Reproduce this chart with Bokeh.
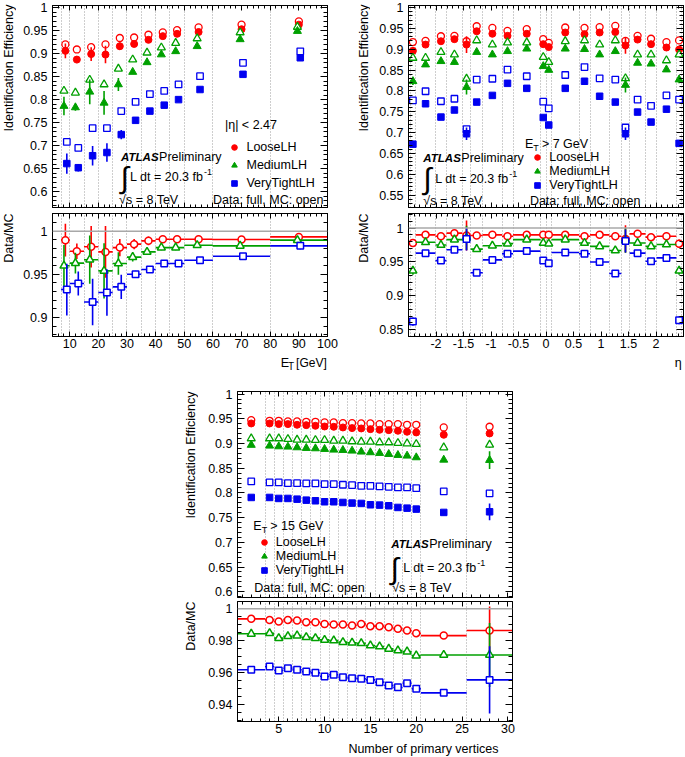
import numpy as np
from bokeh.plotting import figure
from bokeh.models import (Range1d, FixedTicker, LinearAxis, Label, Legend, LegendItem,
                          Span, ColumnDataSource, PrintfTickFormatter, Spacer, Grid)
from bokeh.layouts import column, row
from bokeh.embed import file_html
from bokeh.resources import INLINE

# ------------------------------------------------------------------ data
# --- efficiency vs E_T (|eta| < 2.47)
et_edges = [7, 10, 15, 20, 25, 30, 35, 40, 45, 50, 60, 80, 100]
loose_eff_et = [0.906, 0.887, 0.899, 0.898, 0.916, 0.921, 0.930, 0.938, 0.943, 0.947, 0.953, 0.963]
loose_eff_et_err = [0.016, 0.006, 0.015, 0.019, 0.008, 0.005, 0.004, 0.003, 0.003, 0.003, 0.002, 0.002]
loose_mc_et = [0.920, 0.909, 0.914, 0.920, 0.934, 0.935, 0.941, 0.946, 0.951, 0.957, 0.963, 0.970]
medium_eff_et = [0.786, 0.783, 0.817, 0.793, 0.833, 0.860, 0.881, 0.898, 0.905, 0.916, 0.931, 0.949]
medium_eff_et_err = [0.020, 0.007, 0.027, 0.026, 0.014, 0.004, 0.003, 0.003, 0.003, 0.003, 0.002, 0.002]
medium_mc_et = [0.819, 0.815, 0.843, 0.833, 0.867, 0.887, 0.902, 0.913, 0.923, 0.933, 0.946, 0.958]
vtight_eff_et = [0.661, 0.652, 0.678, 0.685, 0.724, 0.755, 0.775, 0.788, 0.800, 0.822, 0.855, 0.891]
vtight_eff_et_err = [0.022, 0.008, 0.021, 0.020, 0.010, 0.004, 0.003, 0.003, 0.003, 0.003, 0.003, 0.003]
vtight_mc_et = [0.708, 0.695, 0.738, 0.738, 0.775, 0.795, 0.812, 0.819, 0.833, 0.851, 0.880, 0.905]

loose_ratio_et = [0.9896, 0.9768, 0.9819, 0.9760, 0.9810, 0.9850, 0.9888, 0.9907, 0.9907, 0.9907, 0.9903, 0.9934]
loose_ratio_et_err = [0.019, 0.009, 0.024, 0.030, 0.010, 0.006, 0.005, 0.004, 0.004, 0.003, 0.003, 0.003]
medium_ratio_et = [0.9600, 0.9630, 0.9670, 0.9540, 0.9625, 0.9700, 0.9760, 0.9810, 0.9810, 0.9838, 0.9830, 0.9896]
medium_ratio_et_err = [0.024, 0.012, 0.028, 0.032, 0.013, 0.005, 0.003, 0.003, 0.003, 0.003, 0.002, 0.003]
vtight_ratio_et = [0.9324, 0.9394, 0.9180, 0.9290, 0.9355, 0.9502, 0.9556, 0.9625, 0.9625, 0.9664, 0.9710, 0.9830]
vtight_ratio_et_err = [0.030, 0.014, 0.027, 0.027, 0.014, 0.004, 0.003, 0.003, 0.003, 0.003, 0.003, 0.004]

# --- efficiency vs eta (E_T > 7 GeV)
eta_edges = [-2.47, -2.37, -2.01, -1.81, -1.52, -1.37, -1.15, -0.8, -0.6, -0.1, 0.0,
             0.1, 0.6, 0.8, 1.15, 1.37, 1.52, 1.81, 2.01, 2.37, 2.47]
loose_eff_eta = [0.896, 0.911, 0.919, 0.924, 0.911, 0.943, 0.937, 0.932, 0.937, 0.912,
                 0.905, 0.940, 0.936, 0.940, 0.941, 0.909, 0.923, 0.912, 0.904, 0.899]
loose_eff_eta_err = [0.009, 0.004, 0.004, 0.004, 0.020, 0.004, 0.003, 0.003, 0.003, 0.004,
                     0.004, 0.003, 0.003, 0.003, 0.004, 0.020, 0.004, 0.004, 0.004, 0.009]
loose_mc_eta = [0.917, 0.920, 0.931, 0.932, 0.919, 0.955, 0.951, 0.944, 0.948, 0.924,
                0.915, 0.952, 0.951, 0.953, 0.956, 0.920, 0.932, 0.925, 0.917, 0.921]
medium_eff_eta = [0.823, 0.863, 0.871, 0.869, 0.809, 0.893, 0.887, 0.895, 0.901, 0.859,
                  0.850, 0.901, 0.900, 0.887, 0.895, 0.814, 0.867, 0.865, 0.851, 0.827]
medium_eff_eta_err = [0.009, 0.004, 0.004, 0.006, 0.018, 0.003, 0.003, 0.003, 0.003, 0.004,
                      0.004, 0.003, 0.003, 0.003, 0.003, 0.018, 0.004, 0.004, 0.004, 0.009]
medium_mc_eta = [0.879, 0.879, 0.893, 0.887, 0.829, 0.921, 0.911, 0.916, 0.916, 0.881,
                 0.869, 0.919, 0.921, 0.911, 0.921, 0.830, 0.887, 0.887, 0.873, 0.887]
vtight_eff_eta = [0.672, 0.769, 0.737, 0.754, 0.697, 0.773, 0.789, 0.818, 0.806, 0.736,
                  0.718, 0.806, 0.823, 0.787, 0.773, 0.697, 0.749, 0.725, 0.756, 0.674]
vtight_eff_eta_err = [0.008, 0.004, 0.004, 0.005, 0.015, 0.003, 0.003, 0.003, 0.003, 0.004,
                      0.004, 0.003, 0.003, 0.003, 0.003, 0.015, 0.004, 0.004, 0.004, 0.008]
vtight_mc_eta = [0.777, 0.799, 0.775, 0.781, 0.708, 0.827, 0.829, 0.851, 0.835, 0.774,
                 0.758, 0.838, 0.857, 0.830, 0.827, 0.712, 0.779, 0.764, 0.789, 0.779]

loose_ratio_eta = [0.978, 0.990, 0.988, 0.9925, 0.989, 0.989, 0.990, 0.988, 0.990, 0.990,
                   0.990, 0.990, 0.988, 0.990, 0.988, 0.984, 0.9915, 0.9866, 0.988, 0.977]
loose_ratio_eta_err = [0.006, 0.003, 0.003, 0.003, 0.022, 0.003, 0.003, 0.003, 0.003, 0.003,
                       0.003, 0.003, 0.003, 0.003, 0.003, 0.020, 0.003, 0.003, 0.003, 0.006]
medium_ratio_eta = [0.937, 0.979, 0.975, 0.983, 0.9856, 0.969, 0.974, 0.977, 0.983, 0.978,
                    0.977, 0.983, 0.978, 0.973, 0.967, 0.9816, 0.978, 0.973, 0.9757, 0.937]
medium_ratio_eta_err = [0.006, 0.003, 0.003, 0.003, 0.018, 0.003, 0.003, 0.003, 0.003, 0.003,
                        0.003, 0.003, 0.003, 0.003, 0.003, 0.018, 0.003, 0.003, 0.003, 0.006]
vtight_ratio_eta = [0.862, 0.963, 0.952, 0.968, 0.984, 0.934, 0.953, 0.962, 0.966, 0.952,
                    0.948, 0.964, 0.962, 0.950, 0.933, 0.981, 0.963, 0.951, 0.956, 0.864]
vtight_ratio_eta_err = [0.006, 0.004, 0.004, 0.004, 0.017, 0.003, 0.003, 0.003, 0.003, 0.003,
                        0.003, 0.003, 0.003, 0.003, 0.003, 0.017, 0.004, 0.004, 0.004, 0.006]

# --- efficiency vs number of primary vertices (E_T > 15 GeV)
nvtx_edges = [0.5, 3.5, 4.5, 5.5, 6.5, 7.5, 8.5, 9.5, 10.5, 11.5, 12.5, 13.5, 14.5,
              15.5, 16.5, 17.5, 18.5, 19.5, 20.5, 25.5, 30.5]
loose_eff_nv = [0.9406, 0.9406, 0.9393, 0.9393, 0.9379, 0.9372, 0.9359, 0.9345, 0.9339, 0.9325,
                0.9312, 0.9305, 0.9291, 0.9278, 0.9271, 0.9258, 0.9238, 0.9224, 0.9177, 0.9204]
loose_eff_nv_err = [0.001] * 18 + [0.002, 0.006]
loose_mc_nv = [0.9474, 0.9460, 0.9460, 0.9447, 0.9447, 0.9440, 0.9440, 0.9426, 0.9426, 0.9413,
               0.9413, 0.9406, 0.9406, 0.9393, 0.9393, 0.9393, 0.9379, 0.9379, 0.9325, 0.9339]
loose_mc_nv_err = [0.0] * 19 + [0.004]
medium_eff_nv = [0.8970, 0.8954, 0.8940, 0.8934, 0.8920, 0.8907, 0.8900, 0.8887, 0.8873, 0.8866,
                 0.8853, 0.8833, 0.8820, 0.8806, 0.8785, 0.8765, 0.8752, 0.8718, 0.8670, 0.8664]
medium_eff_nv_err = [0.001] * 18 + [0.002, 0.018]
medium_mc_nv = [0.9103, 0.9103, 0.9103, 0.9089, 0.9076, 0.9076, 0.9069, 0.9069, 0.9055, 0.9055,
                0.9042, 0.9035, 0.9035, 0.9022, 0.9022, 0.9008, 0.9001, 0.8988, 0.8920, 0.8974]
medium_mc_nv_err = [0.0] * 19 + [0.006]
vtight_eff_nv = [0.7908, 0.7908, 0.7888, 0.7888, 0.7874, 0.7854, 0.7841, 0.7821, 0.7821, 0.7807,
                 0.7794, 0.7787, 0.7760, 0.7753, 0.7740, 0.7706, 0.7692, 0.7672, 0.7605, 0.7618]
vtight_eff_nv_err = [0.001] * 18 + [0.002, 0.017]
vtight_mc_nv = [0.8232, 0.8212, 0.8212, 0.8198, 0.8198, 0.8192, 0.8192, 0.8178, 0.8178, 0.8165,
                0.8158, 0.8144, 0.8144, 0.8131, 0.8124, 0.8111, 0.8111, 0.8097, 0.8030, 0.7989]
vtight_mc_nv_err = [0.0] * 19 + [0.007]

loose_ratio_nv = [0.99375, 0.9931, 0.9921, 0.9931, 0.9927, 0.9917, 0.9917, 0.9906, 0.9902, 0.9902,
                  0.9896, 0.9906, 0.9892, 0.9892, 0.9885, 0.9875, 0.9865, 0.9848, 0.9833, 0.9865]
loose_ratio_nv_err = [0.0008] * 18 + [0.0010, 0.0150]
medium_ratio_nv = [0.9844, 0.9848, 0.9817, 0.9829, 0.9833, 0.9823, 0.9817, 0.9806, 0.9802, 0.9792,
                   0.9788, 0.9785, 0.9771, 0.9765, 0.9750, 0.9740, 0.9733, 0.9708, 0.9712, 0.9712]
medium_ratio_nv_err = [0.0015] * 18 + [0.0012, 0.0200]
vtight_ratio_nv = [0.9619, 0.9640, 0.9615, 0.9629, 0.9619, 0.9608, 0.9600, 0.9577, 0.9588, 0.9573,
                   0.9567, 0.9563, 0.9556, 0.9542, 0.9521, 0.9510, 0.9535, 0.9500, 0.9475, 0.9556]
vtight_ratio_nv_err = [0.0018] * 18 + [0.0018, 0.0210]

menu_names = ["LooseLH", "MediumLH", "VeryTightLH"]

# ------------------------------------------------------------------ style
FONT = "Liberation Sans"
FS = "12.5px"
RED, GREEN, BLUE = "#ff0000", "#00a000", "#0000f0"
COLORS = [RED, GREEN, BLUE]
MARKERS = ["circle", "triangle", "square"]
MSIZE = {"circle": 7, "triangle": 8, "square": 6.5}


def centers(edges):
    return [(a + b) / 2.0 for a, b in zip(edges[:-1], edges[1:])]


def style_axis(ax, ticklen, labels, standoff=4):
    ax.axis_line_color = "black"
    ax.axis_line_width = 1
    ax.major_tick_in = int(ticklen[0])
    ax.major_tick_out = 0
    ax.minor_tick_in = int(ticklen[1])
    ax.minor_tick_out = 0
    ax.major_tick_line_color = "black"
    ax.minor_tick_line_color = "black"
    if labels:
        ax.formatter = PrintfTickFormatter(format="%g")
        ax.major_label_text_font = FONT
        ax.major_label_text_font_size = FS
        ax.major_label_text_color = "black"
        ax.major_label_standoff = standoff
    else:
        ax.major_label_text_font_size = "1px"
        ax.major_label_text_color = None
        ax.major_label_standoff = 0


def make_fig(W, H, xr, yr, mb, xt, xm, yt, ym, grid_edges, xlabels):
    l, r, t, b = mb
    p = figure(width=W, height=H, x_range=Range1d(*xr), y_range=Range1d(*yr),
               x_axis_type=None, y_axis_type=None, output_backend="svg", title=None,
               toolbar_location=None, min_border_left=l, min_border_right=r,
               min_border_top=t, min_border_bottom=b)
    p.outline_line_color = "black"
    p.outline_line_width = 1
    p.background_fill_color = "white"
    p.border_fill_color = "white"
    p.add_layout(Grid(dimension=0, ticker=FixedTicker(ticks=list(grid_edges)),
                      grid_line_color="#9c9c9c", grid_line_dash="1 2", grid_line_width=1))
    for side in ("below", "above"):
        ax = LinearAxis(ticker=FixedTicker(ticks=xt, minor_ticks=xm))
        style_axis(ax, (5, 3), labels=(side == "below" and xlabels), standoff=2)
        p.add_layout(ax, side)
    for side in ("left", "right"):
        ax = LinearAxis(ticker=FixedTicker(ticks=yt, minor_ticks=ym))
        style_axis(ax, (7, 4), labels=(side == "left"), standoff=5)
        p.add_layout(ax, side)
    geom = (xr, yr, W - l - r, H - t - b)
    return p, geom


def blank(W, H):
    p = figure(width=W, height=H, x_range=Range1d(0, W), y_range=Range1d(0, H),
               x_axis_type=None, y_axis_type=None, output_backend="svg", title=None,
               toolbar_location=None, min_border=0, min_border_left=0, min_border_right=0,
               min_border_top=0, min_border_bottom=0)
    p.outline_line_color = None
    p.background_fill_color = "white"
    p.border_fill_color = "white"
    return p


def txt(p, x, y, s, size=FS, style="normal", align="left", baseline="middle",
        xo=0, yo=0, angle=0.0, font=FONT):
    p.add_layout(Label(x=x, y=y, text=s, text_font=font, text_font_size=size,
                       text_font_style=style, text_align=align, text_baseline=baseline,
                       x_offset=xo, y_offset=yo, angle=angle, text_color="black"))


def upper_series(p, x, eff, eff_err, mc, mc_err, color, marker, dx=0.0):
    xs = [v + dx for v in x]
    sd = ColumnDataSource(dict(x=xs, y=eff, lo=[a - e for a, e in zip(eff, eff_err)],
                               hi=[a + e for a, e in zip(eff, eff_err)]))
    sm = ColumnDataSource(dict(x=xs, y=mc, lo=[a - e for a, e in zip(mc, mc_err)],
                               hi=[a + e for a, e in zip(mc, mc_err)]))
    p.segment(x0="x", x1="x", y0="lo", y1="hi", source=sm, line_color=color, line_width=1.5)
    p.scatter("x", "y", source=sm, marker=marker, size=MSIZE[marker], fill_color="white",
              line_color=color, line_width=1.3)
    p.segment(x0="x", x1="x", y0="lo", y1="hi", source=sd, line_color=color, line_width=1.6)
    r = p.scatter("x", "y", source=sd, marker=marker, size=MSIZE[marker], fill_color=color,
                  line_color=color, line_width=1)
    return r


def ratio_series(p, edges, vals, errs, color, marker, dx=0.0):
    c = centers(edges)
    xs = [v + dx for v in c]
    src = ColumnDataSource(dict(x=xs, lo_x=edges[:-1], hi_x=edges[1:], y=vals,
                                lo=[a - e for a, e in zip(vals, errs)],
                                hi=[a + e for a, e in zip(vals, errs)]))
    p.segment(x0="lo_x", x1="hi_x", y0="y", y1="y", source=src, line_color=color, line_width=1.6)
    p.segment(x0="x", x1="x", y0="lo", y1="hi", source=src, line_color=color, line_width=1.6)
    p.scatter("x", "y", source=src, marker=marker, size=MSIZE[marker], fill_color="white",
              line_color=color, line_width=1.5)


def add_legend(p, geom, renderers, x, y, item_h):
    (x0, x1), (y0, y1), fw, fh = geom
    gw = 14
    px = (x - x0) / (x1 - x0) * fw - gw / 2.0
    py = (y - y0) / (y1 - y0) * fh - item_h / 2.0
    items = [LegendItem(label=n, renderers=[r]) for n, r in zip(menu_names, renderers)]
    leg = Legend(items=items, location=(px, py), background_fill_alpha=0, border_line_alpha=0,
                 padding=0, margin=0, spacing=0, glyph_width=gw, glyph_height=int(item_h),
                 label_height=int(item_h), label_standoff=5, label_text_font=FONT,
                 label_text_font_size=FS, label_text_color="black")
    p.add_layout(leg)


def atlas_block(p, xa, ya, xi, yi, xl, yl, xs, ys):
    txt(p, xa, ya, "ATLAS", size="11.5px", style="bold italic")
    txt(p, xa, ya, "Preliminary", xo=38)
    txt(p, xi, yi, "\u222b", size="30px", align="center")
    txt(p, xl, yl, "L dt = 20.3 fb")
    txt(p, xl, yl, "-1", size="9px", xo=74, yo=5)
    txt(p, xs, ys, "\u221as = 8 TeV")


def et_header(p, x, y, rest):
    txt(p, x, y, "E")
    txt(p, x, y, "T", size="9px", xo=8.4, yo=-4)
    txt(p, x, y, rest, xo=17)


def ratio_line(p):
    p.add_layout(Span(location=1.0, dimension="width", line_color="#a8a8a8", line_width=1.5))


def r2(a):
    return [round(float(v), 4) for v in a]

# ------------------------------------------------------------------ panel 1: E_T
et_c = centers(et_edges)
et_xt = list(range(10, 101, 10))
et_xm = list(range(4, 101, 2))
tl_up, g_tlu = make_fig(324, 210, (4, 100), (0.5655, 1.0046), (36, 13, 5, 3),
                        et_xt, et_xm, r2(np.arange(0.6, 1.001, 0.05)), r2(np.arange(0.57, 1.001, 0.01)),
                        et_edges, False)
et_sets = [(loose_eff_et, loose_eff_et_err, loose_mc_et),
           (medium_eff_et, medium_eff_et_err, medium_mc_et),
           (vtight_eff_et, vtight_eff_et_err, vtight_mc_et)]
et_dx = [0.0, -0.5, 0.5]
rs = []
for (e, ee, m), col, mk, dx in zip(et_sets, COLORS, MARKERS, et_dx):
    rs.append(upper_series(tl_up, et_c, e, ee, m, [0.0] * len(m), col, mk, dx))
add_legend(tl_up, g_tlu, rs, 67.7, 0.6187, 18)
txt(tl_up, 64.2, 0.744, "|\u03b7| < 2.47")
atlas_block(tl_up, 27.95, 0.6746, 29.17, 0.630, 31.09, 0.631, 27.25, 0.581)
txt(tl_up, 60.02, 0.581, "Data: full, MC: open")

tl_ra, g_tlr = make_fig(324, 144, (4, 100), (0.878, 1.0205), (36, 13, 3, 18),
                        et_xt, et_xm, [0.9, 0.95, 1.0], r2(np.arange(0.88, 1.021, 0.01)),
                        et_edges, True)
ratio_line(tl_ra)
for v, e, col, mk, dx in zip([loose_ratio_et, medium_ratio_et, vtight_ratio_et],
                             [loose_ratio_et_err, medium_ratio_et_err, vtight_ratio_et_err],
                             COLORS, MARKERS, et_dx):
    ratio_series(tl_ra, et_edges, v, e, col, mk, dx)

tl_y = blank(16, 371)
txt(tl_y, 8, 371 - 4, "Identification Efficiency", align="right", angle=np.pi / 2)
txt(tl_y, 8, 371 - 213, "Data/MC", align="right", angle=np.pi / 2)
tl_x = blank(324, 17)
txt(tl_x, 269, 9, "E")
txt(tl_x, 277.5, 5, "T", size="10px")
txt(tl_x, 287, 9, "[GeV]", size="12px")

# ------------------------------------------------------------------ panel 2: eta
eta_c = centers(eta_edges)
eta_xt = [-2, -1.5, -1, -0.5, 0, 0.5, 1, 1.5, 2]
eta_xm = r2(np.arange(-2.5, 2.501, 0.1))
tr_up, g_tru = make_fig(315, 210, (-2.5, 2.5), (0.520, 1.0048), (38, 2, 5, 3),
                        eta_xt, eta_xm, r2(np.arange(0.55, 1.001, 0.05)), r2(np.arange(0.53, 1.001, 0.01)),
                        eta_edges, False)
eta_sets = [(loose_eff_eta, loose_eff_eta_err, loose_mc_eta),
            (medium_eff_eta, medium_eff_eta_err, medium_mc_eta),
            (vtight_eff_eta, vtight_eff_eta_err, vtight_mc_eta)]
rs = []
for (e, ee, m), col, mk in zip(eta_sets, COLORS, MARKERS):
    rs.append(upper_series(tr_up, eta_c, e, ee, m, [0.0] * len(m), col, mk))
add_legend(tr_up, g_tru, rs, -0.148, 0.574, 14)
et_header(tr_up, -0.384, 0.673, "> 7 GeV")
atlas_block(tr_up, -2.23, 0.639, -2.157, 0.589, -2.013, 0.589, -2.23, 0.536)
txt(tr_up, -0.293, 0.536, "Data: full, MC: open")

tr_ra, g_trr = make_fig(315, 144, (-2.5, 2.5), (0.84, 1.0215), (38, 2, 3, 18),
                        eta_xt, eta_xm, [0.85, 0.9, 0.95, 1.0], r2(np.arange(0.84, 1.021, 0.01)),
                        eta_edges, True)
ratio_line(tr_ra)
for v, e, col, mk in zip([loose_ratio_eta, medium_ratio_eta, vtight_ratio_eta],
                         [loose_ratio_eta_err, medium_ratio_eta_err, vtight_ratio_eta_err],
                         COLORS, MARKERS):
    ratio_series(tr_ra, eta_edges, v, e, col, mk)

tr_y = blank(30, 371)
txt(tr_y, 23, 371 - 4, "Identification Efficiency", align="right", angle=np.pi / 2)
txt(tr_y, 23, 371 - 213, "Data/MC", align="right", angle=np.pi / 2)
tr_x = blank(315, 17)
txt(tr_x, 305, 9, "\u03b7")

# ------------------------------------------------------------------ panel 3: nvtx
nv_c = centers(nvtx_edges)
nv_xt = [5, 10, 15, 20, 25, 30]
nv_xm = list(range(1, 31))
bt_up, g_btu = make_fig(332, 228, (0.5, 30.5), (0.5883, 1.0053), (39, 18, 20, 2),
                        nv_xt, nv_xm, r2(np.arange(0.6, 1.001, 0.05)), r2(np.arange(0.59, 1.001, 0.01)),
                        nvtx_edges, False)
nv_sets = [(loose_eff_nv, loose_eff_nv_err, loose_mc_nv, loose_mc_nv_err),
           (medium_eff_nv, medium_eff_nv_err, medium_mc_nv, medium_mc_nv_err),
           (vtight_eff_nv, vtight_eff_nv_err, vtight_mc_nv, vtight_mc_nv_err)]
rs = []
for (e, ee, m, me), col, mk in zip(nv_sets, COLORS, MARKERS):
    rs.append(upper_series(bt_up, nv_c, e, ee, m, me, col, mk))
add_legend(bt_up, g_btu, rs, 3.42, 0.6423, 14)
et_header(bt_up, 2.22, 0.7334, "> 15 GeV")
atlas_block(bt_up, 17.27, 0.6964, 17.65, 0.648, 18.58, 0.649, 17.38, 0.6085)
txt(bt_up, 2.33, 0.6085, "Data: full, MC: open")

bt_ra, g_btr = make_fig(332, 140, (0.5, 30.5), (0.9296, 1.0046), (39, 18, 2, 18),
                        nv_xt, nv_xm, [0.94, 0.96, 0.98, 1.0], r2(np.arange(0.93, 1.0046, 0.005)),
                        nvtx_edges, True)
ratio_line(bt_ra)
for v, e, col, mk in zip([loose_ratio_nv, medium_ratio_nv, vtight_ratio_nv],
                         [loose_ratio_nv_err, medium_ratio_nv_err, vtight_ratio_nv_err],
                         COLORS, MARKERS):
    ratio_series(bt_ra, nvtx_edges, v, e, col, mk)

bt_y = blank(18, 385)
txt(bt_y, 10, 385 - 20, "Identification Efficiency", align="right", angle=np.pi / 2)
txt(bt_y, 10, 385 - 230, "Data/MC", align="right", angle=np.pi / 2)
bt_x = blank(332, 17)
txt(bt_x, 315, 8, "Number of primary vertices", align="right")

# ------------------------------------------------------------------ layout
top = row(tl_y, column(tl_up, tl_ra, tl_x), tr_y, column(tr_up, tr_ra, tr_x))
bottom = row(Spacer(width=180, height=10), bt_y, column(bt_up, bt_ra, bt_x))
layout = column(top, bottom)

open("out.html", "w").write(file_html(layout, INLINE))
